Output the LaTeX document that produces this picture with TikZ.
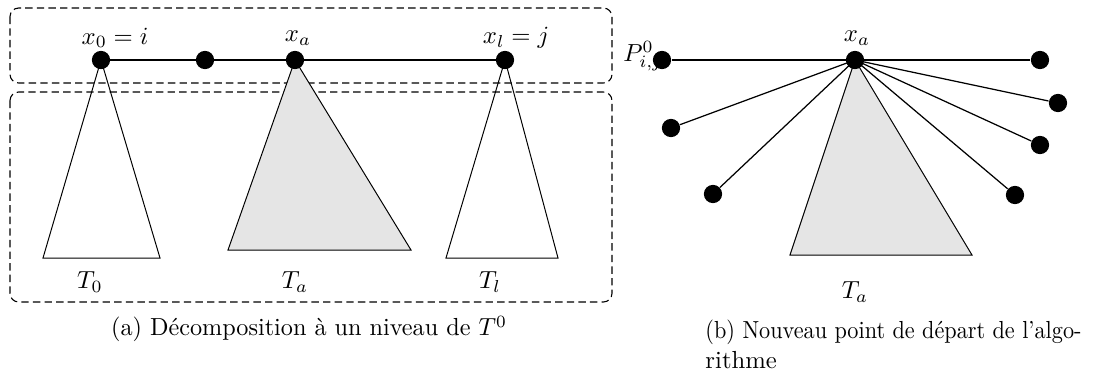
\documentclass[tikz,border=0pt]{standalone}
\begin{document}
\begin{tikzpicture}[x=0.405pt,y=-0.405pt,
  dot/.style={circle,fill=black,inner sep=0pt,minimum size=7.4pt},
  grp/.style={draw,dash pattern=on 3pt off 1.7pt,rounded corners=3.5pt,line width=0.45pt},
  tri/.style={draw,line width=0.4pt},
  edge/.style={line width=0.5pt},
  lbl/.style={inner sep=0pt}]
\useasboundingbox (0,0) rectangle (1101,378);
% groups
\draw[grp] (10,8) rectangle (612,83);
\draw[grp] (10,92) rectangle (612,302);
% left nodes
\coordinate (c0) at (101,60);
\coordinate (cm) at (205,60);
\coordinate (ca) at (295,60);
\coordinate (cl) at (505,60);
% triangles
\draw[tri] (c0) -- (43,258) -- (160,258) -- cycle;
\draw[tri,fill=black!10] (ca) -- (228,250) -- (411,250) -- cycle;
\draw[tri] (cl) -- (446,258) -- (558,258) -- cycle;
\draw[edge] (c0) -- (cl);
\node[dot] (x0) at (c0) {};
\node[dot] (xm) at (cm) {};
\node[dot] (xa) at (ca) {};
\node[dot] (xl) at (cl) {};
\node[lbl] (lx0) at (115,38) {$x_0=i$};
\node[lbl] (lxa) at (298,38) {$x_a$};
\node[lbl] (lxl) at (516,38) {$x_l=j$};
\node[lbl] (t0) at (90,282) {$T_0$};
\node[lbl] (ta) at (295,282) {$T_a$};
\node[lbl] (tl) at (490,282) {$T_l$};
\node[lbl] (capa) at (309,329) {\scalebox{0.98}[1]{(a) D\'ecomposition \`a un niveau de $T^0$}};
% right panel
\node[lbl] (P) at (643,56) {$P^0_{i,j}$};
\coordinate (cb) at (855,60);
\draw[tri,fill=black!10] (cb) -- (790,255) -- (972,255) -- cycle;
\node[dot] (p1) at (662,60) {};
\node[dot] (p2) at (1040,60) {};
\node[dot] (p3) at (1058,103) {};
\node[dot] (p4) at (1040,145) {};
\node[dot] (p5) at (1015,195) {};
\node[dot] (p6) at (671,128) {};
\node[dot] (p7) at (713,194) {};
\foreach \p in {p1,p2,p3,p4,p5,p6,p7} \draw[edge] (cb) -- (\p);
\node[dot] (xb) at (cb) {};
\node[lbl] (lxb) at (857,38) {$x_a$};
\node[lbl] (tb) at (855,292) {$T_a$};
\node[lbl,anchor=north west,align=left] (capb) at (705,319) {\scalebox{0.9}[1]{(b) Nouveau point de d\'epart de l'algo-}\\[0.5pt]rithme};
\end{tikzpicture}
\end{document}
